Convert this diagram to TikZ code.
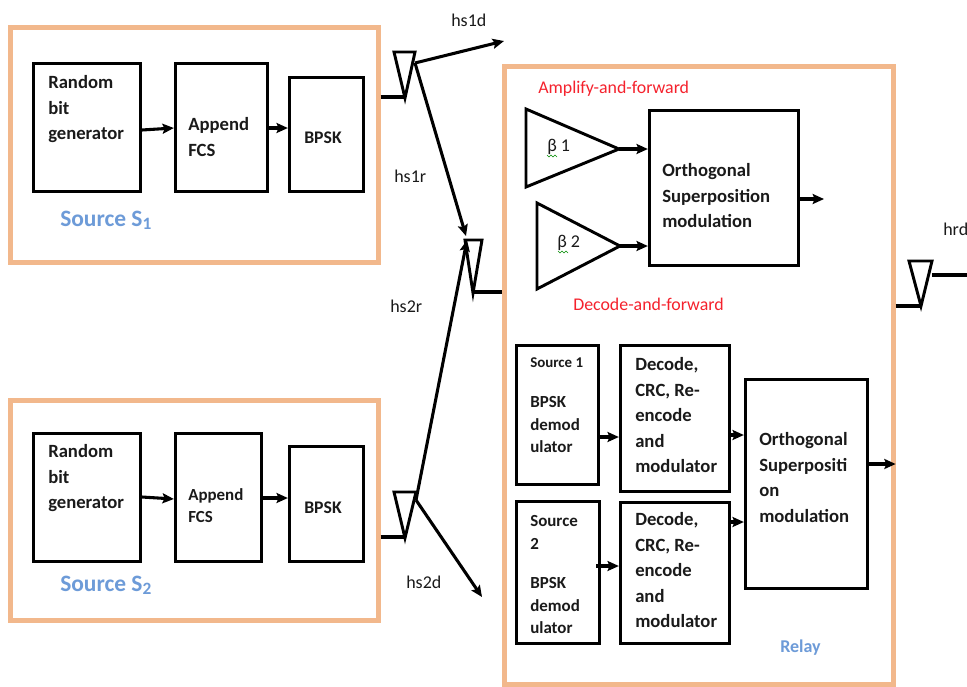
\documentclass[tikz,border=0pt]{standalone}
\usepackage{fontspec}
\setmainfont{Carlito}
\usetikzlibrary{arrows.meta,calc}
\definecolor{frameor}{HTML}{F2B88C}
\definecolor{frameshadow}{HTML}{C9C4BE}
\definecolor{bluelbl}{HTML}{6D9BD8}
\definecolor{darktxt}{HTML}{1A1A1A}
\definecolor{redlbl}{HTML}{F5222D}
\tikzset{
  framebox/.style={draw=frameor,line width=3.4pt,inner sep=0pt,fill=white},
  blockbox/.style={draw=black,line width=2.3pt,inner sep=0pt,fill=white},
  conn/.style={draw=black,line width=2.3pt},
  arr/.style={conn,-{Stealth[length=8.5pt,width=7.5pt,inset=1.5pt]}},
  ante/.style={draw=black,line width=2.2pt,line join=miter},
  txt/.style={inner sep=0pt,anchor=north west,align=left,text=darktxt,yshift=-1.1pt},
  bt/.style={txt,font=\fontsize{14}{19.1}\selectfont\bfseries},
  bm/.style={txt,font=\fontsize{12.7}{16.9}\selectfont\bfseries},
  reg/.style={txt,font=\fontsize{13.5}{16}\selectfont},
  redt/.style={txt,text=redlbl,font=\fontsize{13.4}{16}\selectfont},
  srct/.style={txt,text=bluelbl,font=\fontsize{17.6}{20}\selectfont\bfseries},
}
\newcommand{\blk}[6][blockbox]{\node[#1,minimum width={(#5-#3)*0.75pt},minimum height={(#6-#4)*0.75pt}] (#2) at ({(#3+#5)/2+0.4},{(#4+#6)/2+0.3}) {};}
\begin{document}
\begin{tikzpicture}[x=0.75pt,y=-0.75pt]
\useasboundingbox (0,0) rectangle (967,686);
% frames
\draw[frameshadow,line width=2pt] (12,264) -- (380,264) -- (380,29);
\draw[frameshadow,line width=2pt] (12,622) -- (380,622) -- (380,402);
\draw[frameshadow,line width=2pt] (506,686) -- (895,686) -- (895,68);
\blk[framebox]{srcA}{10}{27}{378}{262}
\blk[framebox]{srcB}{10}{400}{378}{620}
\blk[framebox]{relay}{504}{66}{893}{684}
% source 1
\blk{rndA}{33}{63}{140}{191}
\blk{appA}{175}{63}{267}{191}
\blk{bpskA}{289}{77}{363}{191}
\node[bt] (trndA) at (48,74) {Random\\bit\\generator};
\node[bt] (tappA) at (188,116) {Append\\FCS};
\node[bt,font=\fontsize{13.3}{16}\selectfont\bfseries] (tbpskA) at (304,130) {BPSK};
\node[srct] (tsrcA) at (60,209) {Source S\textsubscript{\fontsize{13}{13}\selectfont 1}};
\draw[arr] (rndA.east |- 0,130) -- (appA.west |- 0,128);
\draw[arr] (appA.east |- 0,128) -- (bpskA.west |- 0,128);
% source 2
\blk{rndB}{33}{433}{140}{561}
\blk{appB}{175}{433}{261}{561}
\blk{bpskB}{289}{446}{363}{561}
\node[bt] (trndB) at (48,443) {Random\\bit\\generator};
\node[bm,font=\fontsize{12.7}{16.6}\selectfont\bfseries] (tappB) at (188,487) {Append\\FCS};
\node[bt,font=\fontsize{13.3}{16}\selectfont\bfseries] (tbpskB) at (304,500) {BPSK};
\node[srct] (tsrcB) at (60,574) {Source S\textsubscript{\fontsize{13}{13}\selectfont 2}};
\draw[arr] (rndB.east |- 0,497) -- (appB.west |- 0,499);
\draw[arr] (appB.east |- 0,498) -- (bpskB.west |- 0,498);
% antennas
\coordinate (a1l) at (394,52); \coordinate (a1r) at (415,52); \coordinate (a1b) at (405,98);
\coordinate (a2l) at (465,240); \coordinate (a2r) at (482,240); \coordinate (a2b) at (473,293);
\coordinate (a3l) at (394,492); \coordinate (a3r) at (416,492); \coordinate (a3b) at (405,538);
\coordinate (a4l) at (909,261); \coordinate (a4r) at (932,261); \coordinate (a4b) at (921,306);
\draw[ante] (a1l) -- (a1r) -- (a1b) -- cycle;
\draw[ante] (a2l) -- (a2r) -- (a2b) -- cycle;
\draw[ante] (a3l) -- (a3r) -- (a3b) -- cycle;
\draw[ante] (a4l) -- (a4r) -- (a4b) -- cycle;
\draw[conn] (srcA.east |- 0,97) -- (a1b |- 0,97);
\draw[conn] (srcB.east |- 0,537) -- (a3b |- 0,537);
\draw[conn] (a2b |- 0,292) -- (relay.west |- 0,292);
\draw[conn] (relay.east |- 0,306) -- (a4b |- 0,306);
\coordinate (t1d) at (504,41);
\coordinate (t2d) at (482,597);
\coordinate (t1h) at (415,63);
\coordinate (t2h) at (416,500);
\coordinate (outr) at (967,275);
\coordinate (in1) at (466,236);
\coordinate (in2) at (467,240);
\draw[arr] (t1h) -- (t1d);
\draw[arr] (t1h) -- (in1);
\draw[arr] (t2h) -- (in2);
\draw[arr] (t2h) -- (t2d);
\draw[conn] (a4r |- 0,275) -- (outr);
\node[reg] (l1d) at (451,12) {hs1d};
\node[reg] (l1r) at (394,168) {hs1r};
\node[reg] (l2r) at (390,298) {hs2r};
\node[reg] (l2d) at (406,574) {hs2d};
\node[reg] (lrd) at (943,221) {hrd};
% relay top
\node[redt] (taf) at (538,79) {Amplify-and-forward};
\node[redt] (tdf) at (573,296) {Decode-and-forward};
\blk{orthA}{649}{110}{798}{265}
\coordinate (b1a) at (526,109); \coordinate (b1b) at (526,187); \coordinate (b1c) at (619,149);
\coordinate (b2a) at (537,203); \coordinate (b2b) at (537,289); \coordinate (b2c) at (620,246);
\draw[ante] (b1a) -- (b1c) -- (b1b) -- cycle;
\draw[ante] (b2a) -- (b2c) -- (b2b) -- cycle;
\draw[arr] (b1c) -- (orthA.west |- b1c);
\draw[arr] (b2c) -- (orthA.west |- b2c);
\coordinate (oAo) at (824,199);
\draw[arr] (orthA.east |- oAo) -- (oAo);
\node[reg] (tb1) at (547,137) {β 1};
\node[reg] (tb2) at (557,233) {β 2};
\draw[green!55!black,line width=0.5pt] (547,155) -- (549,157) -- (551,155) -- (553,157) -- (555,155) -- (557,157);
\draw[green!55!black,line width=0.5pt] (558,251) -- (560,253) -- (562,251) -- (564,253) -- (566,251) -- (568,253);
\node[bt] (torthA) at (662,162) {Orthogonal\\Superposition\\modulation};
% relay bottom
\blk{dmA}{516}{345}{598}{484}
\blk{decA}{620}{345}{729}{491}
\blk{dmB}{516}{501}{599}{643}
\blk{decB}{620}{502}{729}{643}
\blk{orthB}{745}{379}{867}{588}
\node[txt,font=\fontsize{11.2}{16}\selectfont\bfseries] (tsA) at (530,356) {Source 1};
\node[bm] (tdmA) at (530,395) {BPSK\\demod\\ulator};
\node[bm] (tsB) at (530,514) {Source\\2};
\node[bm] (tdmB) at (530,576) {BPSK\\demod\\ulator};
\node[bt] (tdecA) at (635,356) {Decode,\\CRC, Re-\\encode\\and\\modulator};
\node[bt] (tdecB) at (635,511) {Decode,\\CRC, Re-\\encode\\and\\modulator};
\node[bt] (torthB) at (759,431) {Orthogonal\\Superpositi\\on\\modulation};
\node[txt,text=bluelbl,font=\fontsize{13.5}{16}\selectfont\bfseries] (trel) at (780,638) {Relay};
\draw[arr] (dmA.east |- 0,437) -- (decA.west |- 0,437);
\draw[arr] (decA.east |- 0,435) -- (orthB.west |- 0,435);
\draw[arr] (decB.east |- 0,522) -- (orthB.west |- 0,522);
\draw[arr] (596,566) -- (decB.west |- 0,566);
\draw[arr] (orthB.east |- 0,464) -- (relay.east |- 0,464);
\end{tikzpicture}
\end{document}
